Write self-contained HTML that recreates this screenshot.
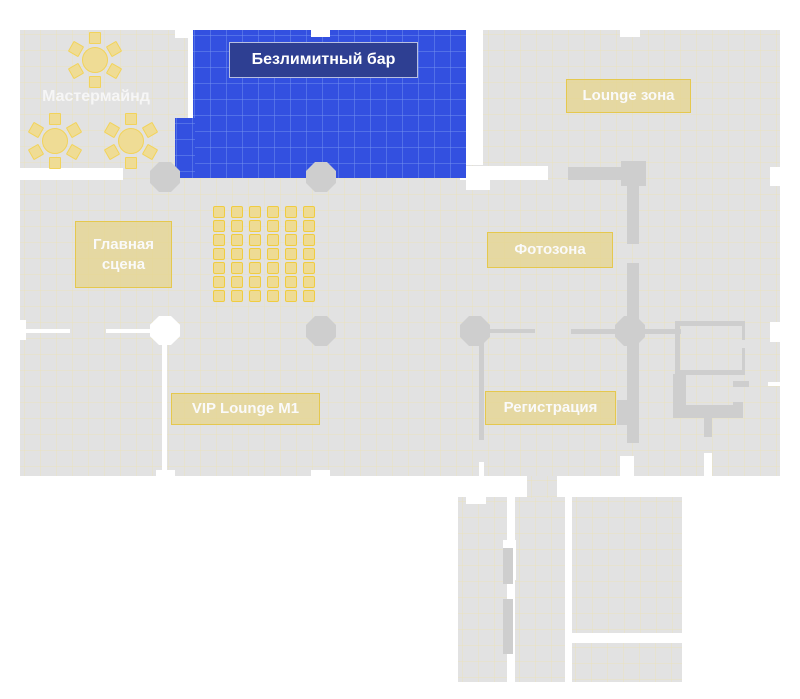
<!DOCTYPE html>
<html><head><meta charset="utf-8"><style>
body{margin:0;width:800px;height:699px;background:#fff;position:relative;overflow:hidden;font-family:"Liberation Sans","Noto Sans CJK SC",sans-serif}
div{position:absolute;box-sizing:border-box}
.g{background-color:#e2e2e2;background-image:linear-gradient(90deg,rgba(235,225,180,.4) 1px,transparent 1px),linear-gradient(rgba(235,225,180,.4) 1px,transparent 1px);background-size:16px 16px;background-position:4px 4px}
.w{background:#fff}
.c{background:#cecece}
.oct{clip-path:polygon(30% 0,70% 0,100% 30%,100% 70%,70% 100%,30% 100%,0 70%,0 30%)}
.lbl{background:rgba(230,212,140,.75);border:1px solid #e5c84e;color:#fafafa;font-weight:bold;font-size:15px;display:flex;align-items:center;justify-content:center;text-align:center;line-height:20px}
.s{width:12px;height:12px;background:#eedb94;border:1px solid #f0cc40;border-radius:2px}
.t{width:26px;height:26px;border-radius:50%;background:#efdc95;border:1px solid #f2d35a}
.ch{width:12px;height:12px;background:#efdc95;border:1px solid #f2d35a;border-radius:1px}
.b{background-color:#3350e0;background-image:linear-gradient(90deg,rgba(120,150,240,.45) 1px,transparent 1px),linear-gradient(rgba(120,150,240,.45) 1px,transparent 1px);background-size:16px 16px;background-position:1px 5px}
</style></head><body>
<div class="g" style="left:20px;top:30px;width:760px;height:446px"></div>
<div class="g" style="left:458px;top:497px;width:49px;height:185px"></div>
<div class="g" style="left:515px;top:497px;width:50px;height:185px"></div>
<div class="g" style="left:527px;top:476px;width:30px;height:22px"></div>
<div class="g" style="left:572px;top:497px;width:110px;height:136px"></div>
<div class="g" style="left:571px;top:643px;width:111px;height:39px"></div>
<div class="w" style="left:466px;top:497px;width:20px;height:7px"></div>
<div class="w" style="left:503px;top:540px;width:13px;height:40px"></div>
<div class="w" style="left:565px;top:497px;width:7px;height:185px"></div>
<div class="c" style="left:503px;top:548px;width:10px;height:36px"></div>
<div class="c" style="left:503px;top:599px;width:10px;height:55px"></div>
<div class="w" style="left:175px;top:30px;width:18px;height:8px"></div>
<div class="w" style="left:188px;top:38px;width:5px;height:80px"></div>
<div class="w" style="left:20px;top:168px;width:103px;height:12px"></div>
<div class="w" style="left:466px;top:30px;width:17px;height:135px"></div>
<div class="w" style="left:460px;top:166px;width:88px;height:14px"></div>
<div class="w" style="left:466px;top:180px;width:24px;height:10px"></div>
<div class="w" style="left:620px;top:30px;width:20px;height:7px"></div>
<div class="w" style="left:770px;top:167px;width:10px;height:19px"></div>
<div class="w" style="left:770px;top:322px;width:10px;height:20px"></div>
<div class="w" style="left:768px;top:382px;width:12px;height:4px"></div>
<div class="w" style="left:20px;top:320px;width:6px;height:20px"></div>
<div class="w" style="left:26px;top:329px;width:44px;height:4px"></div>
<div class="w" style="left:106px;top:329px;width:46px;height:4px"></div>
<div class="w oct" style="left:150px;top:316px;width:30px;height:29px"></div>
<div class="w" style="left:162px;top:340px;width:5px;height:136px"></div>
<div class="w" style="left:156px;top:470px;width:19px;height:6px"></div>
<div class="w" style="left:311px;top:470px;width:19px;height:6px"></div>
<div class="w" style="left:479px;top:462px;width:5px;height:14px"></div>
<div class="w" style="left:620px;top:456px;width:14px;height:20px"></div>
<div class="w" style="left:704px;top:453px;width:8px;height:23px"></div>
<div class="b" style="left:193px;top:30px;width:273px;height:148px"></div>
<div class="b" style="left:175px;top:118px;width:20px;height:60px"></div>
<div class="w" style="left:311px;top:30px;width:19px;height:7px"></div>
<div style="left:229px;top:42px;width:189px;height:36px;background:#2e3f92;border:1px solid #b8c0e0;color:#fff;font-weight:bold;font-size:16px;display:flex;align-items:center;justify-content:center">Безлимитный бар</div>
<div class="c oct" style="left:150px;top:162px;width:30px;height:30px"></div>
<div class="c oct" style="left:306px;top:162px;width:30px;height:30px"></div>
<div class="c oct" style="left:306px;top:316px;width:30px;height:30px"></div>
<div class="c oct" style="left:460px;top:316px;width:30px;height:30px"></div>
<div class="c oct" style="left:615px;top:316px;width:30px;height:30px"></div>
<div class="c" style="left:568px;top:167px;width:78px;height:13px"></div>
<div class="c" style="left:621px;top:161px;width:25px;height:25px"></div>
<div class="c" style="left:627px;top:180px;width:12px;height:64px"></div>
<div class="c" style="left:627px;top:263px;width:12px;height:180px"></div>
<div class="c" style="left:617px;top:400px;width:20px;height:25px"></div>
<div class="c" style="left:489px;top:329px;width:46px;height:4px"></div>
<div class="c" style="left:571px;top:329px;width:110px;height:5px"></div>
<div class="c" style="left:479px;top:340px;width:5px;height:100px"></div>
<div style="left:675px;top:321px;width:70px;height:54px;border:5px solid #cecece;border-right-width:3px"></div>
<div style="left:740px;top:340px;width:6px;height:8px;background:#e2e2e2"></div>
<div class="c" style="left:673px;top:374px;width:13px;height:44px"></div>
<div class="c" style="left:673px;top:405px;width:70px;height:13px"></div>
<div class="c" style="left:733px;top:381px;width:16px;height:6px"></div>
<div class="c" style="left:733px;top:402px;width:10px;height:16px"></div>
<div class="c" style="left:704px;top:417px;width:8px;height:20px"></div>
<div style="left:213px;top:206px;width:110px;height:100px">
<script>
var h='';for(var r=0;r<7;r++)for(var c=0;c<6;c++)h+='<div class="s" style="left:'+(c*18)+'px;top:'+(r*14)+'px"></div>';document.currentScript.parentNode.innerHTML=h;
</script></div>
<div id="tb"></div>
<script>
var out='';[[95,60],[55,141],[131,141]].forEach(function(p){
out+='<div class="t" style="left:'+(p[0]-13)+'px;top:'+(p[1]-13)+'px"></div>';
for(var k=0;k<6;k++){var a=(-90+k*60)*Math.PI/180;var x=p[0]+Math.cos(a)*22-6,y=p[1]+Math.sin(a)*22-6;
out+='<div class="ch" style="left:'+x+'px;top:'+y+'px;transform:rotate('+(k*60)+'deg)"></div>';}
});document.getElementById('tb').outerHTML=out;
</script>
<div style="left:20px;top:88px;width:152px;text-align:center;color:#f6f6f6;font-weight:bold;font-size:16px">Мастермайнд</div>
<div class="lbl" style="left:75px;top:221px;width:97px;height:67px">Главная<br>сцена</div>
<div class="lbl" style="left:566px;top:79px;width:125px;height:34px">Lounge зона</div>
<div class="lbl" style="left:487px;top:232px;width:126px;height:36px">Фотозона</div>
<div class="lbl" style="left:485px;top:391px;width:131px;height:34px">Регистрация</div>
<div class="lbl" style="left:171px;top:393px;width:149px;height:32px">VIP Lounge M1</div>
</body></html>
